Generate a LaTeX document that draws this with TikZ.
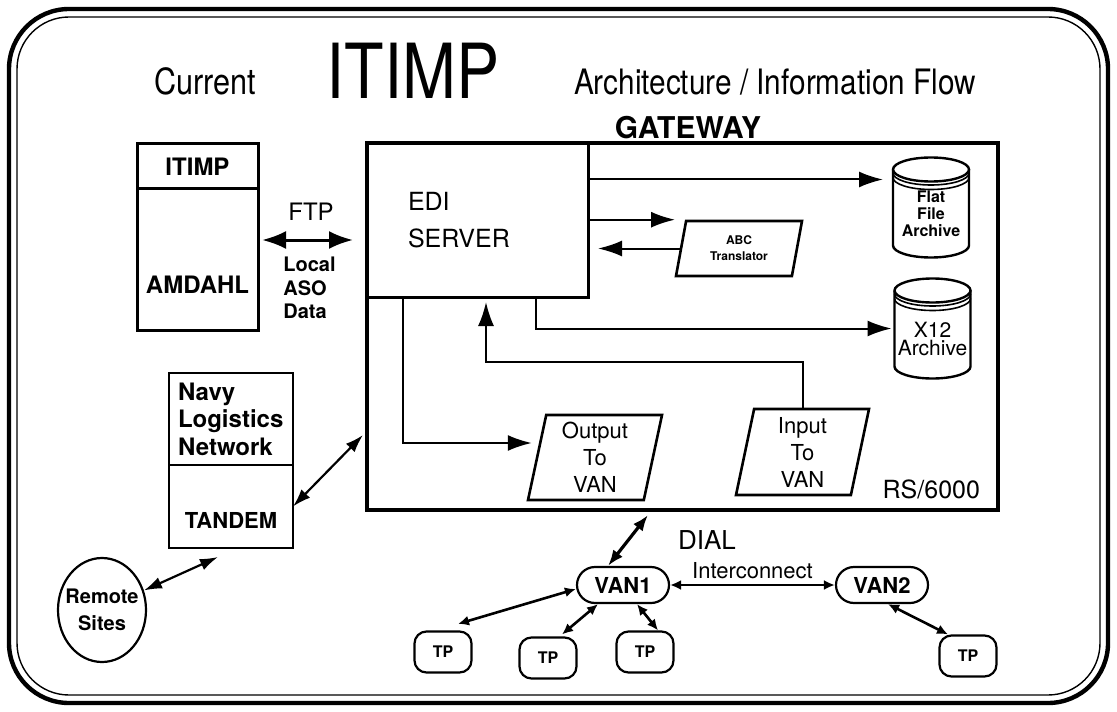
\documentclass[tikz,border=0pt]{standalone}
\usepackage{fontspec}
\setmainfont{TeX Gyre Heros}
\newfontfamily\narrowfont{TeX Gyre Heros}[FakeStretch=0.85]
\usetikzlibrary{arrows.meta,shapes.geometric,positioning}

\newcommand{\fsz}[2]{\fontsize{#1}{#2}\selectfont}

\begin{document}
\begin{tikzpicture}[x=0.5pt,y=-0.5pt,
  box/.style={draw,line width=1.5pt,inner sep=0pt,outer sep=0pt},
  thinbox/.style={draw,line width=1pt,inner sep=0pt,outer sep=0pt},
  slant/.style={trapezium,draw,line width=1.3pt,inner sep=0pt,trapezium stretches body,align=center},
  pill/.style={draw,line width=1.1pt,rounded corners=9pt,minimum width=46pt,minimum height=18pt,inner sep=0pt,font=\fsz{11}{12}\bfseries},
  tpbox/.style={draw,line width=1.1pt,rounded corners=6pt,minimum width=28.5pt,minimum height=20.5pt,inner sep=0pt,font=\fsz{8}{9}\bfseries},
  flow/.style={line width=1pt,-{Latex[length=12pt,width=8pt]}},
  twoway/.style={line width=1.5pt,{Latex[length=12pt,width=9pt]}-{Latex[length=12pt,width=9pt]}},
  link/.style={line width=1.1pt,{Latex[length=9pt,width=6pt]}-{Latex[length=9pt,width=6pt]}},
  dial/.style={line width=1.6pt,{Latex[length=8pt,width=6pt]}-{Latex[length=8pt,width=6pt]}},
  tplink/.style={line width=1.3pt,{Latex[length=5.5pt,width=5pt]}-{Latex[length=5.5pt,width=5pt]}},
  pics/archive/.style={code={
    \draw[line width=1.2pt] (-38,-38) -- (-38,38) arc[start angle=180,end angle=360,x radius=19pt,y radius=6pt] -- (38,-38);
    \draw[line width=1.2pt] (0,-38) ellipse[x radius=19pt,y radius=6pt];
    \draw[line width=0.8pt] (-38,-34.5) arc[start angle=180,end angle=360,x radius=19pt,y radius=6pt];
    \draw[line width=0.8pt] (-38,-30) arc[start angle=180,end angle=360,x radius=19pt,y radius=6pt];
  }}]
\useasboundingbox (0,0) rectangle (1117,711);

% frame
\draw[line width=2.2pt,rounded corners=30pt] (9,9) rectangle (1108,703);
\draw[line width=0.7pt,rounded corners=26pt] (17,17) rectangle (1100,695);

% title
\node[anchor=base,font=\narrowfont\fsz{18}{20}] (current) at (205,95) {Current};
\node[anchor=base,font=\narrowfont\fsz{38}{40}] (title) at (413,99) {ITIMP};
\node[anchor=base,font=\narrowfont\fsz{17.5}{20}] (archflow) at (775,95) {Architecture / Information Flow};
\node[font=\fsz{15}{18}\bfseries] (gwlabel) at (688,128) {GATEWAY};

% host side
\node[box,minimum width=60.5pt,minimum height=22.5pt,font=\fsz{12}{14}\bfseries] (itimphead) at (197.5,166.5) {ITIMP};
\node[box,minimum width=60.5pt,minimum height=70.5pt,below=0pt of itimphead,
  label={[font=\fsz{12}{14}\bfseries,yshift=-12.75pt]center:AMDAHL}] (amdahl) {};

\node[thinbox,minimum width=62pt,minimum height=46pt,text width=53pt,align=left,font=\fsz{12}{13.75}\bfseries] (navy) at (231,419) {Navy\\Logistics\\Network};
\node[thinbox,minimum width=62pt,minimum height=41.5pt,below=0pt of navy,
  label={[font=\fsz{11}{12}\bfseries,yshift=-6.75pt]center:TANDEM}] (tandem) {};

\node[ellipse,draw,line width=1.1pt,minimum width=44pt,minimum height=52pt,inner sep=0pt,
  label={[font=\fsz{10}{13.5}\bfseries,align=center]center:Remote\\Sites}] (remote) at (102,610) {};

% gateway
\node[box,line width=2pt,minimum width=315.5pt,minimum height=183.5pt] (gateway) at (682.5,326.5) {};
\node[box,minimum width=110.5pt,minimum height=77pt,text width=69.5pt,align=left,font=\fsz{12.5}{18.5}] (edi) at (477.5,220) {EDI\\SERVER};
\node[slant,trapezium left angle=68,trapezium right angle=112,minimum width=63pt,minimum height=27.5pt,font=\fsz{6}{8}\bfseries] (abc) at (739,248.5) {ABC\\Translator};
\node[slant,trapezium left angle=75.5,trapezium right angle=104.5,minimum width=67pt,minimum height=42.5pt,font=\fsz{11}{13.5}] (outvan) at (595,457.5) {Output\\To\\VAN};
\node[slant,trapezium left angle=75.5,trapezium right angle=104.5,minimum width=66.5pt,minimum height=43pt,font=\fsz{11}{13.5}] (invan) at (802.5,452) {Input\\To\\VAN};
\node[anchor=base east,font=\fsz{12.5}{14}] (rs) at (987,498) {RS/6000};

\pic at (931,207.5) {archive};
\pic at (932.5,328.5) {archive};
\node[minimum width=38pt,minimum height=50pt,inner sep=0pt,outer sep=0pt,
  label={[font=\fsz{8}{8.5}\bfseries,align=center,yshift=-3.25pt]center:Flat\\File\\Archive}] (flat) at (931,207.5) {};
\node[minimum width=38pt,minimum height=50pt,inner sep=0pt,outer sep=0pt,
  label={[font=\fsz{10.5}{9},align=center,yshift=-5pt]center:X12\\Archive}] (x12) at (932.5,328.5) {};
\coordinate (flatin) at ([xshift=-5pt,yshift=14pt]flat.west);

% FTP link
\node[font=\fsz{12}{14}] (ftp) at (311,212) {FTP};
\node[anchor=west,inner sep=0pt,align=left,font=\fsz{10}{11.75}\bfseries] (asodata) at (283,288) {Local\\ASO\\Data};
\coordinate (ftpy) at (0,240);
\draw[twoway,shorten <=2pt,shorten >=7pt] (amdahl.east |- ftpy) -- (edi.west |- ftpy);

% flows inside the gateway
\draw[flow] (edi.east |- flatin) -- (flatin);
\draw[flow,shorten >=5pt] (edi.east |- abc.top left corner) -- (abc.top left corner);
\draw[flow,shorten >=5pt] (abc.west) -- (edi.east |- abc.west);
\draw[flow] ([xshift=29.25pt]edi.south) |- ([xshift=-1.5pt]x12.west);
\draw[flow] (invan.north) -- ++(0,-46) -| ([xshift=4.25pt,yshift=-2.5pt]edi.south);
\draw[flow] ([xshift=-37.25pt]edi.south) |- ([xshift=-2pt,yshift=7.25pt]outvan.west);

% network side
\draw[link] (tandem.east) -- ([xshift=-2pt,yshift=-54.25pt]gateway.west);
\draw[link] (remote.25) -- ([xshift=-6.5pt,yshift=-4.5pt]tandem.south);

\node[pill] (van1) at (623,585) {VAN1};
\node[pill] (van2) at (882,585) {VAN2};
\node[tpbox] (tp1) at (443,652) {TP};
\node[tpbox] (tp2) at (548,658) {TP};
\node[tpbox] (tp3) at (645,652) {TP};
\node[tpbox] (tp4) at (968,656) {TP};
\node[font=\fsz{13}{15}] (dial) at (707,540) {DIAL};

\draw[dial] ([xshift=-7.5pt]van1.north) -- ([xshift=-17.25pt,yshift=-2.5pt]gateway.south);
\draw[tplink] (van1) -- node[above=-1pt,font=\fsz{11}{12}] {Interconnect} (van2);
\draw[tplink] ([yshift=-2pt]van1.west) -- ([xshift=7.5pt,yshift=3.25pt]tp1.north);
\draw[tplink] ([xshift=-12.5pt]van1.south) -- ([xshift=7pt,yshift=1pt]tp2.north);
\draw[tplink] ([xshift=7pt]van1.south) -- ([xshift=6.5pt]tp3.north);
\draw[tplink] ([xshift=3pt]van2.south) -- ([xshift=-10pt]tp4.north);
\end{tikzpicture}
\end{document}
